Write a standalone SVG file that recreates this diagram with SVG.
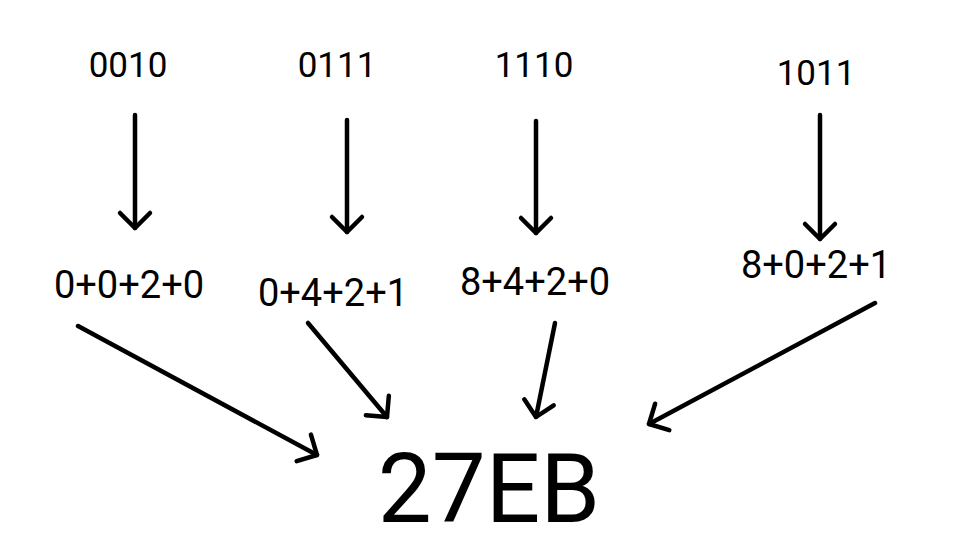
<svg xmlns="http://www.w3.org/2000/svg" width="972" height="548" viewBox="0 0 972 548">
<defs>
<style>
.t{font-family:Roboto,"Liberation Sans",sans-serif;fill:#000;text-anchor:middle}
.bin{font-size:35px}
.sum{font-size:38px}
.res{font-size:96px}
.c{stroke:#000;stroke-width:4.5;fill:none;stroke-linecap:round;stroke-linejoin:round}
</style>
<marker id="ah" markerUnits="userSpaceOnUse" viewBox="-20 -20 24 40" refX="0" refY="0" markerWidth="24" markerHeight="40" orient="auto" overflow="visible">
<path d="M-15,-15 L0,0 L-15,15" fill="none" stroke="#000" stroke-width="4.5" stroke-linecap="round" stroke-linejoin="round"/>
</marker>
</defs>
<rect width="972" height="548" fill="#fff"/>
<g id="n-0010"><text class="t bin" x="128" y="77">0010</text></g>
<g id="n-0111"><text class="t bin" x="337" y="77">0111</text></g>
<g id="n-1110"><text class="t bin" x="534" y="77">1110</text></g>
<g id="n-1011"><text class="t bin" x="816" y="85">1011</text></g>
<g id="n-s1"><text class="t sum" x="129" y="298">0+0+2+0</text></g>
<g id="n-s2"><text class="t sum" x="333" y="306">0+4+2+1</text></g>
<g id="n-s3"><text class="t sum" x="535" y="295">8+4+2+0</text></g>
<g id="n-s4"><text class="t sum" x="816" y="278">8+0+2+1</text></g>
<g id="n-res"><text class="t res" x="489" y="522">27EB</text></g>
<g id="connectors" class="c">
<line x1="135" y1="115" x2="135" y2="228" marker-end="url(#ah)"/>
<line x1="347" y1="120" x2="347" y2="232" marker-end="url(#ah)"/>
<line x1="536" y1="121" x2="536" y2="233" marker-end="url(#ah)"/>
<line x1="820" y1="115" x2="820" y2="239" marker-end="url(#ah)"/>
<line x1="78" y1="326" x2="317" y2="455" marker-end="url(#ah)"/>
<line x1="308" y1="323" x2="387" y2="417" marker-end="url(#ah)"/>
<line x1="555" y1="323" x2="536" y2="417" marker-end="url(#ah)"/>
<line x1="875" y1="303" x2="649" y2="424" marker-end="url(#ah)"/>
</g>
</svg>
